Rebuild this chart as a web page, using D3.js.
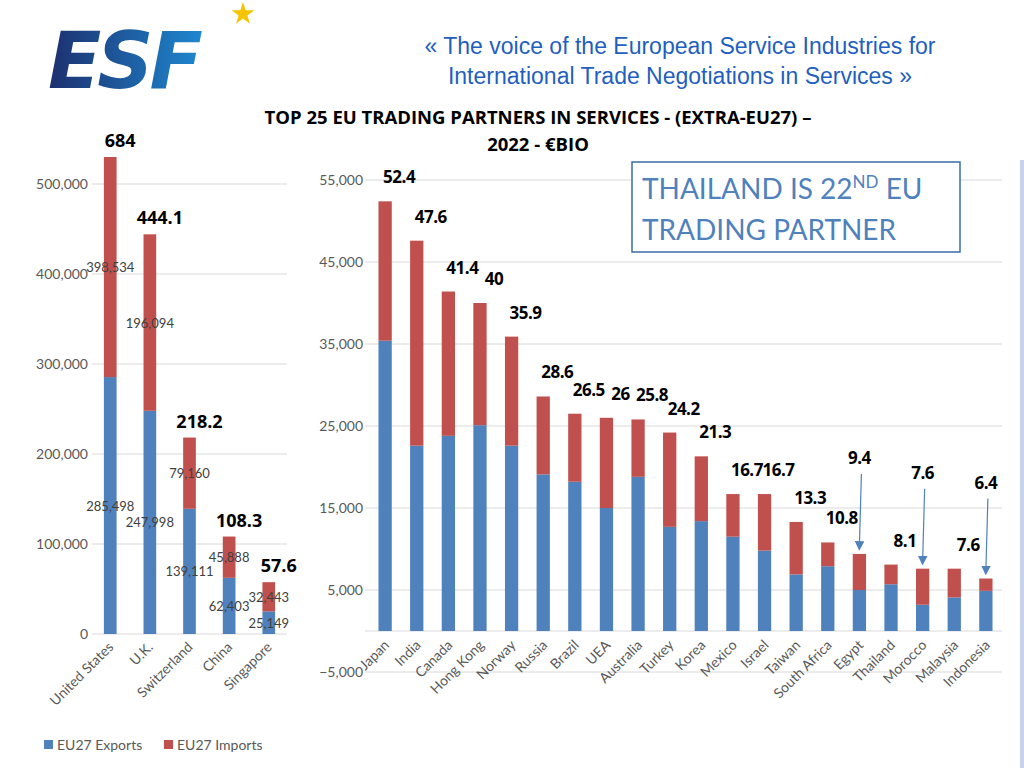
<!DOCTYPE html>
<html><head><meta charset="utf-8">
<script src="https://cdn.jsdelivr.net/npm/d3@7"></script>
<style>body{margin:0;}svg{display:block;}</style>
</head><body>
<div class="container"></div>
<script>
const WIDTH = 1024, HEIGHT = 768;
const BLUE = '#4f81bd', RED = '#c0504d';

// left chart (top 5)
var bigCountries = ['United States','U.K.','Switzerland','China','Singapore'];
var bigExports = [285498, 247998, 139111, 62403, 25149];
var bigImports = [398534, 196094, 79160, 45888, 32443];
var bigTotals = ['684','444.1','218.2','108.3','57.6'];
var bigTicks = [0,100000,200000,300000,400000,500000];

// right chart (6th - 25th)
var countries = ['Japan','India','Canada','Hong Kong','Norway','Russia','Brazil','UEA','Australia','Turkey','Korea','Mexico','Israel','Taiwan','South Africa','Egypt','Thailand','Morocco','Malaysia','Indonesia'];
var exportsEU = [35400,22600,23800,25100,22600,19100,18200,15000,18800,12700,13400,11500,9800,6900,7900,5000,5700,3200,4100,4900];
var totals = [52.4,47.6,41.4,40,35.9,28.6,26.5,26,25.8,24.2,21.3,16.7,16.7,13.3,10.8,9.4,8.1,7.6,7.6,6.4];
var ticks = [-5000,5000,15000,25000,35000,45000,55000];
var arrowed = ['Egypt','Morocco','Indonesia'];

var svg = d3.select('.container').append('svg').attr('width',WIDTH).attr('height',HEIGHT)
  .style('font-family','Lato, "Open Sans", sans-serif');

var defs = svg.append('defs');
var bg = defs.append('linearGradient').attr('id','bg').attr('x1',0).attr('x2',1);
bg.append('stop').attr('offset',0).attr('stop-color','#c9d3ea');
bg.append('stop').attr('offset',0.5).attr('stop-color','#eef1f9');
bg.append('stop').attr('offset',1).attr('stop-color','#c9d3ea');
var lg = defs.append('linearGradient').attr('id','logo').attr('x1',0).attr('x2',1);
lg.append('stop').attr('offset',0).attr('stop-color','#1d2f6e');
lg.append('stop').attr('offset',1).attr('stop-color','#1e88d0');
defs.append('marker').attr('id','arr').attr('viewBox','0 0 10 10').attr('refX',5).attr('refY',5)
  .attr('markerWidth',8).attr('markerHeight',8).attr('orient','auto')
  .append('path').attr('d','M0,0L10,5L0,10z').attr('fill',BLUE);

svg.append('rect').attr('width',WIDTH).attr('height',HEIGHT).attr('fill','url(#bg)');
svg.append('rect').attr('y',0).attr('width',WIDTH).attr('height',160).attr('fill','#fff');
svg.append('rect').attr('x',0).attr('y',130).attr('width',305).attr('height',638).attr('fill','#fff');
svg.append('rect').attr('x',305).attr('y',160).attr('width',715).attr('height',608).attr('fill','#fff');

// logo
svg.append('text').attr('x',48).attr('y',88).attr('font-size',78).attr('font-weight','bold')
  .attr('font-style','italic').attr('font-family','"DejaVu Sans", sans-serif')
  .attr('letter-spacing',-4).attr('fill','url(#logo)').text('ESF');
svg.append('path').attr('transform','translate(243,14)')
  .attr('d', d3.symbol(d3.symbolStar, 160)()).attr('fill','#f5c400');

// header
svg.append('text').attr('x',680).attr('y',54).attr('text-anchor','middle').attr('font-size',23)
  .attr('font-family','"Liberation Sans", Arial, sans-serif').attr('fill','#1f5fbf')
  .text('«  The voice of the European Service Industries for');
svg.append('text').attr('x',680).attr('y',84).attr('text-anchor','middle').attr('font-size',23)
  .attr('font-family','"Liberation Sans", Arial, sans-serif').attr('fill','#1f5fbf')
  .text('International Trade Negotiations in Services  »');

svg.append('text').attr('x',538).attr('y',124).attr('text-anchor','middle').attr('font-size',18.5)
  .attr('font-weight','bold').attr('font-family','"Open Sans", sans-serif')
  .text('TOP 25 EU TRADING PARTNERS IN SERVICES -  (EXTRA-EU27) –');
svg.append('text').attr('x',538).attr('y',151).attr('text-anchor','middle').attr('font-size',18.5)
  .attr('font-weight','bold').attr('font-family','"Open Sans", sans-serif').text('2022 - €BIO');

// ---- left chart
var lx = d3.scaleBand().domain(bigCountries).range([92,287]).paddingInner(0.68).paddingOuter(0.3);
var ly = d3.scaleLinear().domain([0,500000]).range([634,184]);
var capTop = ly.invert(157);
var lg2 = svg.append('g');
lg2.selectAll('.grid').data(bigTicks).join('line').attr('x1',92).attr('x2',287)
  .attr('y1',d=>ly(d)).attr('y2',d=>ly(d)).attr('stroke','#d9d9d9');
lg2.selectAll('.yt').data(bigTicks).join('text').attr('x',88).attr('y',d=>ly(d)+5)
  .attr('text-anchor','end').attr('font-size',14).attr('fill','#595959').text(d3.format(','));
lg2.selectAll('.be').data(bigCountries).join('rect').attr('x',d=>lx(d)).attr('width',lx.bandwidth())
  .attr('y',(d,i)=>ly(bigExports[i])).attr('height',(d,i)=>ly(0)-ly(bigExports[i])).attr('fill',BLUE);
lg2.selectAll('.bi').data(bigCountries).join('rect').attr('x',d=>lx(d)).attr('width',lx.bandwidth())
  .attr('y',(d,i)=>ly(Math.min(capTop,bigExports[i]+bigImports[i])))
  .attr('height',(d,i)=>ly(bigExports[i])-ly(Math.min(capTop,bigExports[i]+bigImports[i]))).attr('fill',RED);
lg2.selectAll('.le').data(bigCountries).join('text').attr('x',d=>lx(d)+lx.bandwidth()/2)
  .attr('y',(d,i)=>ly(bigExports[i]/2)+5).attr('text-anchor','middle').attr('font-size',13).attr('fill','#404040')
  .text((d,i)=>d3.format(',')(bigExports[i]));
lg2.selectAll('.li').data(bigCountries).join('text').attr('x',d=>lx(d)+lx.bandwidth()/2)
  .attr('y',(d,i)=>ly(bigExports[i]+Math.min(bigImports[i],capTop-bigExports[i])/2)+5).attr('text-anchor','middle')
  .attr('font-size',13).attr('fill','#404040').text((d,i)=>d3.format(',')(bigImports[i]));
lg2.selectAll('.lt').data(bigCountries).join('text').attr('x',d=>lx(d)+lx.bandwidth()/2+10)
  .attr('y',(d,i)=>ly(Math.min(capTop,bigExports[i]+bigImports[i]))-10).attr('text-anchor','middle')
  .attr('font-size',18).attr('font-weight','bold').attr('font-family','"Open Sans", sans-serif').text((d,i)=>bigTotals[i]);
lg2.selectAll('.lx').data(bigCountries).join('text')
  .attr('transform',d=>'translate('+(lx(d)+lx.bandwidth()/2+4)+',648) rotate(-45)')
  .attr('text-anchor','end').attr('font-size',14).attr('fill','#595959').text(d=>d);
var legend = svg.append('g').attr('font-size',14).attr('fill','#595959');
[['EU27 Exports',BLUE,44],['EU27 Imports',RED,164]].forEach(function(l){
  legend.append('rect').attr('x',l[2]).attr('y',740).attr('width',9).attr('height',9).attr('fill',l[1]);
  legend.append('text').attr('x',l[2]+13).attr('y',750).text(l[0]);
});

// ---- right chart
var x = d3.scaleBand().domain(countries).range([369,1002]).paddingInner(0.58).paddingOuter(0.3);
var y = d3.scaleLinear().domain([-5000,55000]).range([672,180]);
var g = svg.append('g');
g.selectAll('.grid').data(ticks).join('line').attr('x1',365).attr('x2',1002)
  .attr('y1',d=>y(d)).attr('y2',d=>y(d)).attr('stroke','#d9d9d9');
g.append('line').attr('x1',365).attr('x2',1002).attr('y1',y(0)).attr('y2',y(0)).attr('stroke','#d9d9d9');
g.selectAll('.yt').data(ticks).join('text').attr('x',363).attr('y',d=>y(d)+5)
  .attr('text-anchor','end').attr('font-size',14).attr('fill','#595959').text(d3.format(','));
g.selectAll('.be').data(countries).join('rect').attr('x',d=>x(d)).attr('width',x.bandwidth())
  .attr('y',(d,i)=>y(exportsEU[i])).attr('height',(d,i)=>y(0)-y(exportsEU[i])).attr('fill',BLUE);
g.selectAll('.bi').data(countries).join('rect').attr('x',d=>x(d)).attr('width',x.bandwidth())
  .attr('y',(d,i)=>y(totals[i]*1000)).attr('height',(d,i)=>y(exportsEU[i])-y(totals[i]*1000)).attr('fill',RED);
g.selectAll('.lt').data(countries).join('text')
  .attr('x',d=>x(d)+x.bandwidth()/2+(arrowed.includes(d)?0:14))
  .attr('y',(d,i)=>y(totals[i]*1000)-(arrowed.includes(d)?90:18)).attr('text-anchor','middle')
  .attr('font-size',17).attr('font-weight','bold').attr('font-family','"Open Sans", sans-serif')
  .attr('letter-spacing',-0.5).text((d,i)=>totals[i]);
g.selectAll('.ar').data(countries.filter(d=>arrowed.includes(d))).join('line')
  .attr('x1',d=>x(d)+x.bandwidth()/2+2).attr('x2',d=>x(d)+x.bandwidth()/2)
  .attr('y1',d=>y(totals[countries.indexOf(d)]*1000)-80).attr('y2',d=>y(totals[countries.indexOf(d)]*1000)-8)
  .attr('stroke',BLUE).attr('stroke-width',1.2).attr('marker-end','url(#arr)');
g.selectAll('.lx').data(countries).join('text')
  .attr('transform',d=>'translate('+(x(d)+x.bandwidth()/2+5)+',646) rotate(-45)')
  .attr('text-anchor','end').attr('font-size',14).attr('fill','#595959').text(d=>d);

// callout box
var box = svg.append('g');
box.append('rect').attr('x',632).attr('y',162).attr('width',328).attr('height',90)
  .attr('fill','#fff').attr('stroke','#3a6ea5').attr('stroke-width',1.5);
var t1 = box.append('text').attr('x',642).attr('y',199).attr('font-size',28).attr('fill',BLUE);
t1.append('tspan').text('THAILAND IS 22');
t1.append('tspan').attr('font-size',17).attr('dy',-11).text('ND');
t1.append('tspan').attr('dy',11).text(' EU');
box.append('text').attr('x',642).attr('y',240).attr('font-size',28).attr('fill',BLUE).text('TRADING PARTNER');
</script>
</body></html>
